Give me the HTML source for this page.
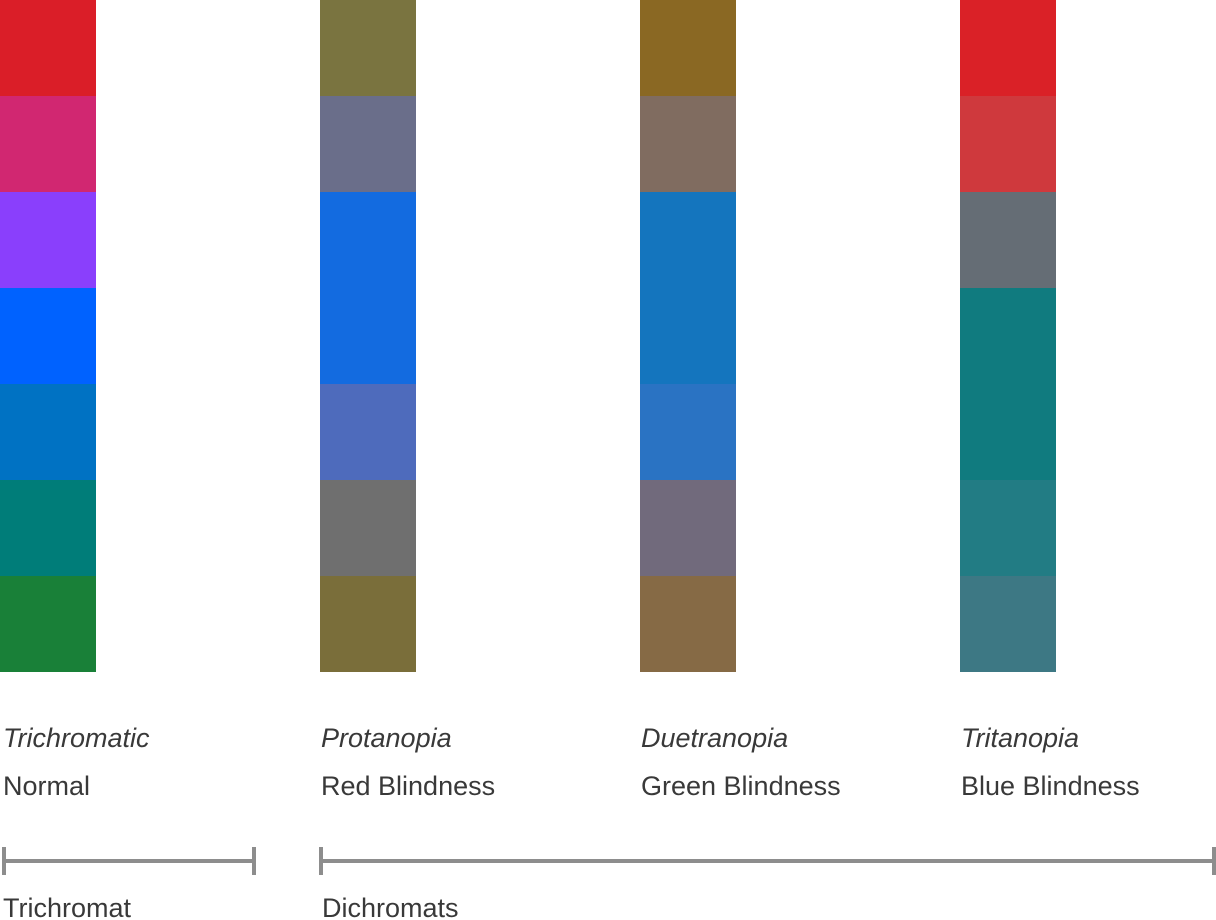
<!DOCTYPE html>
<html><head><meta charset="utf-8"><style>
html,body{margin:0;padding:0;background:#fff;width:1216px;height:920px;overflow:hidden;font-family:"Liberation Sans",sans-serif;}
svg{display:block}
</style></head><body>
<svg id="chart" width="1216" height="920"></svg>
<script>
const groups=["Trichromatic","Protanopia","Duetranopia","Tritanopia"];
const subtitles=["Normal","Red Blindness","Green Blindness","Blue Blindness"];
const swatchColors=[
["#da1e28","#d12771","#8a3ffc","#0062ff","#0072c3","#007d79","#198038"],
["#7a7440","#6a6e8a","#136be0","#136be0","#4e6bbc","#6f6f6f","#7a6e3a"],
["#8a6823","#806c60","#1475be","#1475be","#2a73c3","#716a7c","#866a45"],
["#da2127","#cf393d","#656d75","#107b7f","#107b7f","#227c84","#3d7884"]];
const brackets=[{label:"Trichromat",from:0,to:0},{label:"Dichromats",from:1,to:3}];
const NS="http://www.w3.org/2000/svg";
const svg=document.getElementById('chart');
const colX=i=>i*320, sw=96, rowY=j=>j*96;
function mk(t,a){const e=document.createElementNS(NS,t);for(const k in a)e.setAttribute(k,a[k]);svg.appendChild(e);return e;}
groups.forEach((g,i)=>{
  swatchColors[i].forEach((c,j)=>{
    const r=mk('rect',{x:colX(i),y:rowY(j),width:sw,height:96,fill:c});
    
    
  });
  const tx=i==0?3:colX(i)+1;
  const t=mk('text',{x:tx,y:747,'font-size':27,'font-style':'italic',fill:'#393939'});t.textContent=g;
  
  
  const s=mk('text',{x:tx,y:795,'font-size':27,fill:'#393939'});s.textContent=subtitles[i];
  
  
});
brackets.forEach((b,k)=>{
  const xa=k==0?4:colX(b.from)+1;
  const x2=b.to==3?1214:254;
  const line=mk('path',{d:`M${xa} 847V875M${xa} 861H${x2}M${x2} 847V875`,stroke:'#8d8d8d','stroke-width':4,fill:'none'});
  
  
  const t=mk('text',{x:k==0?3:colX(b.from)+2,y:917,'font-size':27,fill:'#393939'});t.textContent=b.label;
  
  
});
</script>
</body></html>
